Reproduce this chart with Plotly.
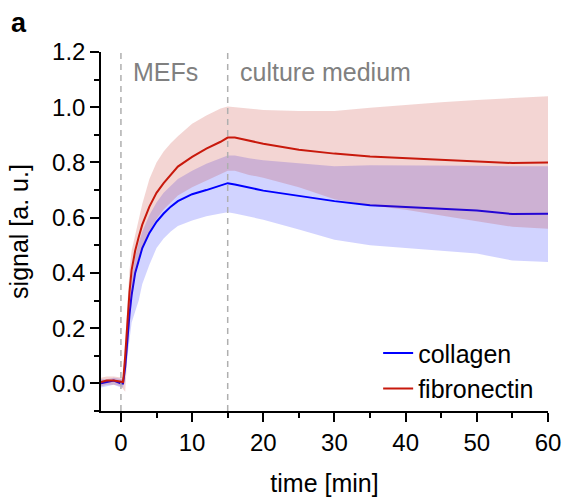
import plotly.graph_objects as go

# time [min]
time = [-2.8, -2, -1, 0, 0.3, 0.6, 0.9, 1.2, 1.5, 2, 2.5, 3, 4, 5, 6, 7, 8, 10, 12, 14, 15, 16,
        18, 20, 25, 30, 35, 40, 45, 50, 55, 60]

collagen_mean = [0.0, 0.005, 0.01, 0.0, 0.0, 0.06, 0.16, 0.25, 0.32, 0.40, 0.445, 0.49, 0.545, 0.585,
                 0.615, 0.64, 0.66, 0.685, 0.70, 0.715, 0.725, 0.72, 0.71, 0.698, 0.679, 0.66, 0.645,
                 0.639, 0.632, 0.626, 0.613, 0.614]
collagen_upper = [0.015, 0.015, 0.02, 0.015, 0.015, 0.09, 0.22, 0.32, 0.38, 0.46, 0.51, 0.55, 0.61,
                  0.655, 0.69, 0.715, 0.74, 0.77, 0.795, 0.815, 0.825, 0.825, 0.815, 0.808, 0.797,
                  0.786, 0.79, 0.79, 0.79, 0.788, 0.786, 0.786]
collagen_lower = [-0.015, -0.01, -0.005, -0.015, -0.015, 0.03, 0.10, 0.17, 0.22, 0.26, 0.30, 0.36,
                  0.43, 0.49, 0.525, 0.55, 0.57, 0.59, 0.605, 0.615, 0.62, 0.615, 0.603, 0.593, 0.557,
                  0.52, 0.50, 0.49, 0.48, 0.47, 0.445, 0.44]

fibronectin_mean = [0.005, 0.01, 0.01, 0.005, 0.005, 0.10, 0.22, 0.33, 0.41, 0.48, 0.53, 0.575, 0.64,
                    0.69, 0.725, 0.755, 0.785, 0.82, 0.85, 0.875, 0.89, 0.89, 0.878, 0.868, 0.846,
                    0.832, 0.822, 0.816, 0.81, 0.806, 0.798, 0.80]
fibronectin_upper = [0.02, 0.025, 0.025, 0.02, 0.02, 0.15, 0.30, 0.41, 0.48, 0.54, 0.60, 0.65, 0.74,
                     0.80, 0.84, 0.87, 0.895, 0.94, 0.97, 0.995, 1.003, 1.0, 0.995, 0.99, 0.986, 0.986,
                     0.998, 1.009, 1.018, 1.026, 1.034, 1.04]
fibronectin_lower = [-0.01, -0.005, -0.005, -0.01, -0.02, -0.03, 0.10, 0.22, 0.30, 0.39, 0.45, 0.49,
                     0.55, 0.595, 0.63, 0.655, 0.68, 0.71, 0.735, 0.758, 0.77, 0.77, 0.755, 0.745,
                     0.71, 0.667, 0.645, 0.629, 0.607, 0.587, 0.567, 0.56]

phase_starts = [0, 15]
phase_labels = ["MEFs", "culture medium"]
x_ticks = [0, 10, 20, 30, 40, 50, 60]
y_ticks = [0.0, 0.2, 0.4, 0.6, 0.8, 1.0, 1.2]

FONT = "Arial, 'Liberation Sans', sans-serif"
BLUE = "rgb(0,0,255)"
RED = "rgb(200,25,12)"
TXT = 25

fig = go.Figure()

# collagen band + line
fig.add_trace(go.Scatter(x=time, y=collagen_upper, mode="lines", line=dict(width=0),
                         showlegend=False, hoverinfo="skip"))
fig.add_trace(go.Scatter(x=time, y=collagen_lower, mode="lines", line=dict(width=0),
                         fill="tonexty", fillcolor="rgba(0,10,255,0.18)",
                         showlegend=False, hoverinfo="skip"))
fig.add_trace(go.Scatter(x=time, y=collagen_mean, mode="lines", name="collagen",
                         line=dict(color=BLUE, width=2)))

# fibronectin band + line
fig.add_trace(go.Scatter(x=time, y=fibronectin_upper, mode="lines", line=dict(width=0),
                         showlegend=False, hoverinfo="skip"))
fig.add_trace(go.Scatter(x=time, y=fibronectin_lower, mode="lines", line=dict(width=0),
                         fill="tonexty", fillcolor="rgba(190,30,20,0.19)",
                         showlegend=False, hoverinfo="skip"))
fig.add_trace(go.Scatter(x=time, y=fibronectin_mean, mode="lines", name="fibronectin",
                         line=dict(color=RED, width=2)))

for xs in phase_starts:
    fig.add_shape(type="line", x0=xs, x1=xs, xref="x", y0=0, y1=1, yref="paper",
                  line=dict(color="rgb(175,175,175)", width=1.5, dash="6px,5px"))

for xs, lab in zip(phase_starts, phase_labels):
    fig.add_annotation(x=xs, y=1.128, xref="x", yref="y", text=lab, showarrow=False,
                       xanchor="left", xshift=10, yanchor="middle",
                       font=dict(family=FONT, size=TXT, color="rgb(128,128,128)"))

fig.add_annotation(xref="paper", yref="paper", x=-0.205, y=1.08, text="<b>a</b>",
                   showarrow=False, xanchor="left", yanchor="middle",
                   font=dict(family=FONT, size=27, color="black"))

axis_common = dict(showline=True, linecolor="black", linewidth=1.5, ticks="outside",
                   ticklen=9, tickwidth=1.5, tickcolor="black", showgrid=False, zeroline=False,
                   automargin=False, tickfont=dict(family=FONT, size=24, color="black"))

fig.update_xaxes(range=[-2.8, 60], tickvals=x_ticks, ticktext=[str(v) for v in x_ticks],
                 minor=dict(dtick=5, tick0=0, ticks="outside", ticklen=5, tickwidth=1.5,
                            tickcolor="black"),
                 title=dict(text="time [min]", font=dict(family=FONT, size=TXT, color="black"),
                            standoff=20),
                 **axis_common)
fig.update_yaxes(range=[-0.1, 1.2], tickvals=y_ticks, ticktext=[f"{v:.1f}" for v in y_ticks],
                 minor=dict(dtick=0.1, tick0=0, ticks="outside", ticklen=5, tickwidth=1.5,
                            tickcolor="black"),
                 title=dict(text="signal [a. u.]", font=dict(family=FONT, size=TXT, color="black"),
                            standoff=16),
                 **axis_common)

fig.update_layout(
    template="none",
    width=564, height=497,
    margin=dict(l=101, r=16, t=52, b=86),
    paper_bgcolor="white", plot_bgcolor="white",
    font=dict(family=FONT, color="black"),
    showlegend=True,
    legend=dict(x=0.62, y=0.225, xanchor="left", yanchor="top", traceorder="normal",
                font=dict(family=FONT, size=TXT, color="black"),
                bgcolor="rgba(0,0,0,0)", tracegroupgap=0),
)

fig.write_html("out.html", config={"displayModeBar": False},
               post_script="document.body.style.margin='0';")
